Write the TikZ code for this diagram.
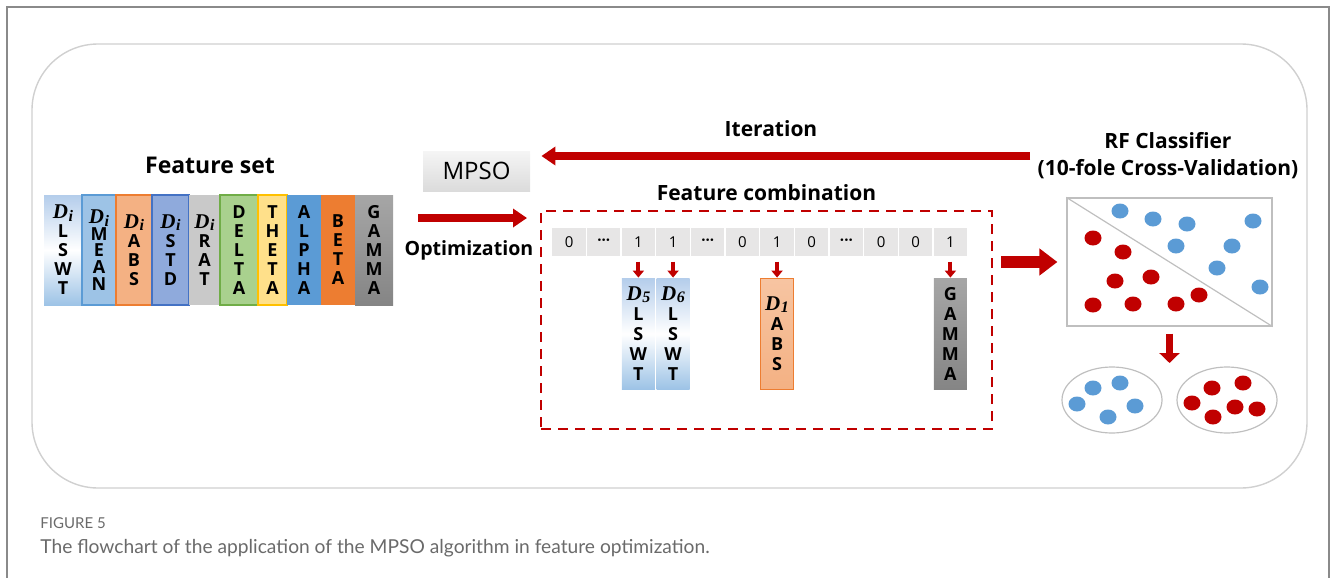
\documentclass[tikz,border=0pt]{standalone}
\usepackage{amsmath}
\usepackage{fontspec}
\setmainfont{Open Sans}
\newfontfamily\captionfont{Lato}
\newfontfamily\symbolserif{Liberation Serif}
\usetikzlibrary{positioning,arrows.meta}
\definecolor{darkred}{HTML}{C00000}
\definecolor{dotblue}{HTML}{5B9BD5}
\definecolor{lightblue}{HTML}{9DC3E6}
\definecolor{paleblue}{HTML}{B4CDEB}
\definecolor{salmon}{HTML}{F4B183}
\definecolor{orangeline}{HTML}{ED7D31}
\definecolor{periwinkle}{HTML}{8FAADC}
\definecolor{royal}{HTML}{4472C4}
\definecolor{silver}{HTML}{C9C9C9}
\definecolor{leaf}{HTML}{A9D18E}
\definecolor{leafline}{HTML}{70AD47}
\definecolor{butter}{HTML}{FFE08A}
\definecolor{gold}{HTML}{FFC000}
\definecolor{gammatop}{HTML}{A6A6A6}
\definecolor{gammabot}{HTML}{858585}
\definecolor{cellgray}{HTML}{E7E6E6}
\definecolor{framegray}{HTML}{8A8A8A}
\definecolor{rim}{HTML}{D0D0D0}
\definecolor{rimdark}{HTML}{BFBFBF}
\definecolor{capgray}{HTML}{6A6A6A}
% bold italic D with an index, as in the band names
\newcommand{\band}[1]{{\symbolserif\bfseries\itshape\fontsize{10.5}{9.5}\selectfont D\kern0.3pt\raisebox{-0.25ex}{\fontsize{8}{8}\selectfont #1}}}
\newcommand{\Di}{\band{i}}
\newcommand{\skipped}{\textbf{···}}

\begin{document}
\begin{tikzpicture}[x=0.5pt,y=-0.5pt,
    col/.style={minimum height=55pt, inner sep=0pt, align=center, line width=0.6pt,
      font=\fontsize{9}{9.5}\selectfont\bfseries},
    pick/.style={col, minimum width=16.5pt, minimum height=55.5pt, font=\fontsize{9}{10}\selectfont\bfseries},
    lswt/.style={top color=paleblue, bottom color=lightblue, middle color=white},
    gammafill/.style={top color=gammatop, bottom color=gammabot},
    cell/.style={fill=cellgray, draw=white, line width=0.6pt, minimum width=17.3pt,
      minimum height=15pt, inner sep=0pt, font=\fontsize{7.5}{8}\selectfont},
    heading/.style={font=\fontsize{10.5}{12}\selectfont\bfseries},
    bigarrow/.style={draw=darkred, line width=4pt, -{Triangle[width=9pt,length=7pt]}},
    fatarrow/.style={draw=darkred, line width=6pt, -{Triangle[width=13pt,length=9pt]}},
    tinyarrow/.style={draw=darkred, line width=2pt, -{Triangle[width=5.5pt,length=3.5pt]}}]
  \useasboundingbox (0,0) rectangle (1333,578);
  % page frame and the rounded panel
  \draw[framegray, line width=0.8pt] (7,578) -- (7,7) -- (1329,7) -- (1329,578);
  \draw[rim, line width=0.7pt, rounded corners=33pt] (32,44) rectangle (1307,488);

  % feature set
  \node[heading, font=\fontsize{11.5}{13}\selectfont\bfseries] (fstitle) at (210,165) {Feature set};
  \node[col, lswt, minimum width=19pt] (lswt) at (63,250) {\Di\\L\\S\\W\\T};
  \node[col, fill=lightblue, draw=dotblue, minimum width=17pt,
    font=\fontsize{9}{8.3}\selectfont\bfseries] (mean) at (99,250) {\Di\\M\\E\\A\\N};
  \node[col, fill=salmon, draw=orangeline, minimum width=18pt] (abs) at (134,250) {\Di\\A\\B\\S};
  \node[col, fill=periwinkle, draw=royal, minimum width=18.5pt] (std) at (170.5,250) {\Di\\S\\T\\D};
  \node[col, fill=silver, minimum width=15.5pt] (rat) at (204.5,250) {\Di\\R\\A\\T};
  \node[col, fill=leaf, draw=leafline, minimum width=19pt] (delta) at (239,250) {D\\E\\L\\T\\A};
  \node[col, fill=butter, draw=gold, minimum width=14.5pt] (theta) at (272.5,250) {T\\H\\E\\T\\A};
  \node[col, fill=dotblue, minimum width=17pt] (alpha) at (304,250) {A\\L\\P\\H\\A};
  \node[col, fill=orangeline, minimum width=17pt] (beta) at (338,250) {B\\E\\T\\A};
  \node[col, gammafill, minimum width=19pt] (gamma) at (374,250) {G\\A\\M\\M\\A};

  % optimizer
  \node[top color=gray!8, bottom color=gray!28, minimum width=53.5pt, minimum height=20pt,
    font=\fontsize{12}{14}\selectfont] (mpso) at (476.5,171) {MPSO};
  \coordinate (optstart) at (418,218);
  \coordinate (optend) at (527,218);
  \draw[bigarrow] (optstart) -- (optend);
  \node[heading, font=\fontsize{9.8}{12}\selectfont\bfseries] (optlabel) at (469,250) {Optimization};

  % feature combination
  \node[draw=darkred, line width=1.25pt, dash pattern=on 5pt off 3.5pt,
    minimum width=225.5pt, minimum height=109pt] (combo) at (766.5,320) {};
  \node[heading, above=1pt of combo] (combotitle) {Feature combination};
  \foreach \v [count=\i] in {0,\skipped,1,1,\skipped,0,1,0,\skipped,0,0,1}
    \node[cell] (c\i) at ({551.7+(\i-0.5)*34.67},242) {\v};
  \node[pick, lswt, below=10pt of c3] (d5) {\band{5}\\L\\S\\W\\T};
  \node[pick, lswt, below=10pt of c4] (d6) {\band{6}\\L\\S\\W\\T};
  \node[pick, top color=salmon!75, bottom color=salmon, draw=orangeline, below=10pt of c7] (d1) {\band{1}\\A\\B\\S};
  \node[pick, gammafill, below=10pt of c12] (gm) {G\\A\\M\\M\\A};
  \draw[tinyarrow, shorten <=2pt] (c3) -- (d5);
  \draw[tinyarrow, shorten <=2pt] (c4) -- (d6);
  \draw[tinyarrow, shorten <=2pt] (c7) -- (d1);
  \draw[tinyarrow, shorten <=2pt] (c12) -- (gm);

  % classifier
  \node[heading, align=center, font=\fontsize{10.5}{13.5}\selectfont\bfseries] (rf) at (1168,156)
    {RF Classifier\\(10-fole Cross-Validation)};
  \node[draw=rimdark, line width=0.6pt, minimum width=102.5pt, minimum height=64pt, inner sep=0pt] (scatter) at (1169.5,262) {};
  \draw[rimdark, line width=0.6pt] (scatter.north west) -- (scatter.south east);
  \foreach \px/\py in {1120/211, 1153/219, 1187/224, 1253/221, 1176/246, 1232/246, 1217/268, 1260/287}
    \fill[dotblue] (\px,\py) ellipse [x radius=8.5, y radius=7.5];
  \foreach \px/\py in {1093/238, 1123/252, 1115/281, 1151/277, 1093/305, 1133/304, 1176/304, 1199/295}
    \fill[darkred] (\px,\py) ellipse [x radius=8.5, y radius=7.5];
  \draw[fatarrow, shorten <=4pt, shorten >=4.5pt] (combo.east |- scatter.west) -- (scatter.west);
  \coordinate (groups) at (1169.5,367);
  \draw[draw=darkred, line width=3.5pt, -{Triangle[width=10pt,length=5pt]}, shorten <=3.5pt, shorten >=2pt]
    (scatter.south) -- (groups);
  \draw[rimdark, line width=0.6pt] (1112,400) ellipse [x radius=50, y radius=33];
  \draw[rimdark, line width=0.6pt] (1227,400) ellipse [x radius=50, y radius=33];
  \foreach \px/\py in {1093/388, 1120/383, 1077/404, 1135/406, 1108/417}
    \fill[dotblue] (\px,\py) ellipse [x radius=8.5, y radius=7.5];
  \foreach \px/\py in {1212/388, 1243/383, 1192/403, 1235/407, 1213/417, 1257/409}
    \fill[darkred] (\px,\py) ellipse [x radius=8.5, y radius=7.5];

  % iteration loop back to the optimizer
  \coordinate (itstart) at (1030,156);
  \draw[bigarrow, shorten >=5.5pt] (itstart) -- (mpso.east |- itstart);
  \node[heading] (iterlabel) at (771,129) {Iteration};

  % caption
  \node[anchor=west, inner sep=0pt, text=capgray, font=\captionfont\fontsize{7.5}{9}\selectfont] (figno) at (40,523) {FIGURE 5};
  \node[anchor=west, inner sep=0pt, text=capgray, font=\captionfont\fontsize{9.6}{11}\selectfont] (figcap) at (40,548)
    {The flowchart of the application of the MPSO algorithm in feature optimization.};
\end{tikzpicture}
\end{document}
